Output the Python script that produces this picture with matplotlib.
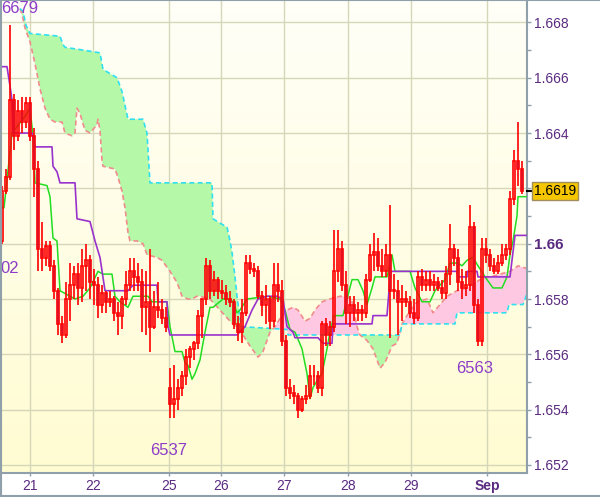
import numpy as np
import matplotlib
matplotlib.use("Agg")
from matplotlib import pyplot as plt
from matplotlib.colors import LinearSegmentedColormap
from matplotlib.lines import Line2D
from matplotlib.ticker import MultipleLocator

plt.rcParams['font.family'] = ['Liberation Sans', 'DejaVu Sans']

# hourly candles
opens = [
    1.6601, 1.6619, 1.6624, 1.6652, 1.6639, 1.6648, 1.6644, 1.6651, 1.6639, 1.6627,
    1.6598, 1.6595, 1.6599, 1.6592, 1.6583, 1.6571, 1.6567, 1.6580, 1.6585, 1.6589,
    1.6584, 1.6592, 1.6594, 1.6586, 1.6585, 1.6578, 1.6582, 1.6579, 1.6580, 1.6575,
    1.6574, 1.6580, 1.6585, 1.6590, 1.6588, 1.6586, 1.6577, 1.6579, 1.6570, 1.6577,
    1.6576, 1.6573, 1.6548, 1.6542, 1.6544, 1.6548, 1.6552, 1.6559, 1.6562, 1.6564,
    1.6574, 1.6580, 1.6592, 1.6583, 1.6587, 1.6583, 1.6582, 1.6580, 1.6579, 1.6571,
    1.6568, 1.6575, 1.6593, 1.6591, 1.6590, 1.6581, 1.6578, 1.6580, 1.6572, 1.6585,
    1.6583, 1.6565, 1.6548, 1.6546, 1.6545, 1.6540, 1.6544, 1.6545, 1.6552, 1.6552,
    1.6548, 1.6571, 1.6567, 1.6570, 1.6590, 1.6598, 1.6585, 1.6575, 1.6578, 1.6575,
    1.6576, 1.6575, 1.6587, 1.6596, 1.6597, 1.6592, 1.6590, 1.6596, 1.6583, 1.6583,
    1.6579, 1.6580, 1.6579, 1.6575, 1.6573, 1.6588, 1.6585, 1.6587, 1.6585, 1.6586,
    1.6584, 1.6582, 1.6589, 1.6598, 1.6595, 1.6586, 1.6584, 1.6585, 1.6606, 1.6578,
    1.6565, 1.6598, 1.6596, 1.6592, 1.6590, 1.6593, 1.6596, 1.6598, 1.6616, 1.6630, 1.6627,
]
highs = [
    1.6621, 1.6627, 1.6679, 1.6654, 1.6652, 1.6653, 1.6653, 1.6653, 1.6642, 1.6630,
    1.6608, 1.6601, 1.6601, 1.6594, 1.6584, 1.6574, 1.6586, 1.6593, 1.6592, 1.6593,
    1.6598, 1.6600, 1.6596, 1.6591, 1.6588, 1.6585, 1.6583, 1.6583, 1.6581, 1.6579,
    1.6581, 1.6590, 1.6595, 1.6595, 1.6593, 1.6591, 1.6590, 1.6598, 1.6583, 1.6586,
    1.6580, 1.6577, 1.6555, 1.6556, 1.6551, 1.6554, 1.6562, 1.6563, 1.6565, 1.6576,
    1.6580, 1.6595, 1.6594, 1.6590, 1.6588, 1.6587, 1.6585, 1.6583, 1.6580, 1.6574,
    1.6580, 1.6596, 1.6596, 1.6593, 1.6592, 1.6583, 1.6585, 1.6581, 1.6593, 1.6593,
    1.6587, 1.6567, 1.6551, 1.6549, 1.6546, 1.6545, 1.6549, 1.6556, 1.6556, 1.6554,
    1.6572, 1.6573, 1.6572, 1.6605, 1.6605, 1.6601, 1.6590, 1.6581, 1.6581, 1.6579,
    1.6578, 1.6589, 1.6600, 1.6604, 1.6602, 1.6598, 1.6600, 1.6614, 1.6589, 1.6587,
    1.6585, 1.6583, 1.6581, 1.6580, 1.6590, 1.6591, 1.6590, 1.6590, 1.6589, 1.6588,
    1.6587, 1.6592, 1.6607, 1.6600, 1.6598, 1.6591, 1.6590, 1.6614, 1.6608, 1.6580,
    1.6602, 1.6602, 1.6598, 1.6595, 1.6596, 1.6600, 1.6600, 1.6619, 1.6634, 1.6644, 1.6630,
]
lows = [
    1.6600, 1.6618, 1.6623, 1.6634, 1.6637, 1.6640, 1.6642, 1.6637, 1.6617, 1.6590,
    1.6590, 1.6592, 1.6590, 1.6580, 1.6567, 1.6564, 1.6566, 1.6572, 1.6580, 1.6578,
    1.6579, 1.6583, 1.6580, 1.6578, 1.6573, 1.6575, 1.6575, 1.6577, 1.6572, 1.6567,
    1.6569, 1.6578, 1.6583, 1.6583, 1.6583, 1.6568, 1.6567, 1.6561, 1.6569, 1.6573,
    1.6571, 1.6568, 1.6537, 1.6537, 1.6540, 1.6545, 1.6549, 1.6555, 1.6558, 1.6562,
    1.6566, 1.6578, 1.6580, 1.6581, 1.6580, 1.6580, 1.6578, 1.6577, 1.6569, 1.6565,
    1.6564, 1.6574, 1.6589, 1.6588, 1.6580, 1.6574, 1.6571, 1.6569, 1.6570, 1.6579,
    1.6563, 1.6545, 1.6544, 1.6542, 1.6537, 1.6539, 1.6542, 1.6544, 1.6549, 1.6546,
    1.6545, 1.6563, 1.6563, 1.6568, 1.6586, 1.6583, 1.6571, 1.6570, 1.6572, 1.6572,
    1.6572, 1.6573, 1.6586, 1.6590, 1.6590, 1.6588, 1.6588, 1.6566, 1.6580, 1.6567,
    1.6572, 1.6577, 1.6573, 1.6571, 1.6572, 1.6583, 1.6583, 1.6583, 1.6583, 1.6583,
    1.6580, 1.6580, 1.6585, 1.6592, 1.6583, 1.6580, 1.6581, 1.6583, 1.6575, 1.6563,
    1.6563, 1.6593, 1.6590, 1.6589, 1.6589, 1.6592, 1.6594, 1.6596, 1.6614, 1.6621, 1.6618,
]
closes = [
    1.6619, 1.6624, 1.6652, 1.6639, 1.6648, 1.6644, 1.6651, 1.6639, 1.6627, 1.6598,
    1.6595, 1.6599, 1.6592, 1.6583, 1.6571, 1.6567, 1.6580, 1.6585, 1.6589, 1.6584,
    1.6592, 1.6594, 1.6586, 1.6585, 1.6578, 1.6582, 1.6579, 1.6580, 1.6575, 1.6574,
    1.6580, 1.6585, 1.6590, 1.6588, 1.6586, 1.6577, 1.6579, 1.6570, 1.6577, 1.6576,
    1.6573, 1.6570, 1.6542, 1.6544, 1.6548, 1.6552, 1.6559, 1.6562, 1.6564, 1.6574,
    1.6580, 1.6592, 1.6583, 1.6587, 1.6583, 1.6582, 1.6580, 1.6579, 1.6571, 1.6568,
    1.6575, 1.6593, 1.6591, 1.6590, 1.6581, 1.6578, 1.6580, 1.6572, 1.6585, 1.6583,
    1.6565, 1.6548, 1.6546, 1.6545, 1.6540, 1.6544, 1.6545, 1.6552, 1.6552, 1.6548,
    1.6571, 1.6567, 1.6570, 1.6590, 1.6598, 1.6585, 1.6575, 1.6578, 1.6575, 1.6576,
    1.6575, 1.6587, 1.6596, 1.6597, 1.6592, 1.6590, 1.6596, 1.6583, 1.6583, 1.6579,
    1.6580, 1.6579, 1.6575, 1.6573, 1.6588, 1.6585, 1.6587, 1.6585, 1.6586, 1.6584,
    1.6582, 1.6589, 1.6598, 1.6595, 1.6586, 1.6584, 1.6585, 1.6606, 1.6578, 1.6565,
    1.6598, 1.6596, 1.6592, 1.6590, 1.6593, 1.6596, 1.6598, 1.6616, 1.6630, 1.6627, 1.6619,
]

# day separators (bar positions) and their labels
day_pos = [7, 22.75, 41.75, 54.75, 70.5, 86.5, 102.25, 121.25]
day_labels = ['21', '22', '25', '26', '27', '28', '29', 'Sep']

price_ticks = [1.652, 1.654, 1.656, 1.658, 1.660, 1.662, 1.664, 1.666, 1.668]
price_labels = ['1.652', '1.654', '1.656', '1.658', '1.66', '', '1.664', '1.666', '1.668']

# ichimoku lines as (bar, price) breakpoints
tenkan = [
    (-0.5, 1.6613), (0.5, 1.6613), (1.25, 1.6623), (2.5, 1.6640), (5.75, 1.6646), (7, 1.6649),
    (7.75, 1.6639), (8.25, 1.6622), (11.25, 1.6621), (12, 1.6617), (12.75, 1.6602), (13.75, 1.6601),
    (14.5, 1.6583), (15.75, 1.6582), (18.25, 1.6580), (20.25, 1.6581), (22, 1.6584), (24, 1.6590),
    (25.25, 1.6589), (27.5, 1.6589), (28.25, 1.6581), (29.5, 1.6579), (31.5, 1.6577), (32.75, 1.6581),
    (36.5, 1.6581), (37.5, 1.6579), (41.25, 1.6579), (42, 1.6570), (43.25, 1.6561), (45, 1.6561),
    (45.75, 1.6557), (46.5, 1.6556), (47.5, 1.6551), (48.25, 1.6553), (49.5, 1.6558), (50.75, 1.6568),
    (52, 1.6577), (52.75, 1.6577), (55.25, 1.6580), (57, 1.6580), (57.75, 1.6579), (58.75, 1.6575),
    (59.5, 1.6576), (61.25, 1.6580), (66.5, 1.6581), (69.5, 1.6580), (70.75, 1.6576), (72, 1.6569),
    (73.25, 1.6568), (75, 1.6562), (76.25, 1.6553), (77, 1.6544), (77.75, 1.6548), (79, 1.6551),
    (80, 1.6553), (81.25, 1.6562), (82, 1.6568), (83, 1.6574), (85.25, 1.6574), (86.25, 1.6580),
    (87.5, 1.6587), (89, 1.6587), (90.25, 1.6583), (91.25, 1.6578), (92.5, 1.6584), (93.25, 1.6588),
    (96.25, 1.6588), (97.5, 1.6596), (98.25, 1.6590), (102, 1.6590), (103.25, 1.6584), (105, 1.6579),
    (107, 1.6579), (108.25, 1.6583), (109.5, 1.6585), (110.75, 1.6587), (112, 1.6593), (114, 1.6593),
    (115, 1.6592), (116.25, 1.6594), (117.75, 1.6595), (119, 1.6592), (121.25, 1.6587), (122.75, 1.6584),
    (125, 1.6584), (126.25, 1.6588), (127, 1.6596), (127.75, 1.6601), (128.75, 1.6610), (129, 1.6617),
    (131, 1.6617),
]
kijun = [
    (-0.5, 1.6664), (1.25, 1.6664), (2, 1.6657), (2.5, 1.6652), (2.75, 1.6640), (7.5, 1.6640),
    (8.25, 1.6635), (12.5, 1.6635), (12.75, 1.6628), (13.75, 1.6626), (14.5, 1.6622), (18.25, 1.6622),
    (18.75, 1.6609), (22, 1.6608), (23.25, 1.6601), (24.5, 1.6595), (25.75, 1.6583), (31.5, 1.6583),
    (32.75, 1.6585), (38.75, 1.6585), (39, 1.6579), (41.25, 1.6579), (41.5, 1.6570), (42, 1.6567),
    (58.75, 1.6567), (60.75, 1.6570), (62.5, 1.6576), (64, 1.6580), (66.25, 1.6581), (68.75, 1.6581),
    (70.25, 1.6580), (71.25, 1.6570), (72.75, 1.6568), (73.25, 1.6566), (79, 1.6566), (80.25, 1.6564),
    (82.5, 1.6564), (82.75, 1.6571), (92.5, 1.6571), (92.75, 1.6574), (96.25, 1.6574), (96.75, 1.6583),
    (97.25, 1.6590), (113.75, 1.6590), (114, 1.6588), (116.25, 1.6588), (116.3, 1.6590), (118.75, 1.6590),
    (119, 1.6588), (127, 1.6588), (127.75, 1.6597), (128.25, 1.6603), (131, 1.6603),
]
span_a = [
    (4.5, 1.6685), (5, 1.6683), (5.75, 1.6678), (7, 1.6673), (8.25, 1.6665), (9.5, 1.6656),
    (10.75, 1.6649), (12, 1.6645), (13.25, 1.6644), (15, 1.6644), (15.75, 1.6640), (17.5, 1.6639),
    (18.25, 1.6640), (18.75, 1.6649), (19.5, 1.6647), (20.75, 1.6641), (22, 1.6640), (23.75, 1.6643),
    (24, 1.6645), (24.5, 1.6641), (25, 1.6630), (25.25, 1.6628), (28.25, 1.6627), (29, 1.6624),
    (30, 1.6619), (30.75, 1.6613), (31.5, 1.6604), (32, 1.6601), (33.75, 1.6601), (35.25, 1.6600),
    (36.25, 1.6596), (38.75, 1.6595), (40, 1.6594), (42, 1.6590), (43.75, 1.6586), (45, 1.6581),
    (46.5, 1.6580), (47.5, 1.6580), (48.75, 1.6581), (49.5, 1.6581), (52, 1.6580), (54.5, 1.6576),
    (57, 1.6572), (59, 1.6569), (60.25, 1.6567), (62, 1.6563), (64, 1.6559), (65.25, 1.6561),
    (66.25, 1.6565), (67, 1.6568), (68.25, 1.6570), (69.5, 1.6573), (71.25, 1.6576), (72.75, 1.6577),
    (74, 1.6576), (75.75, 1.6572), (77, 1.6573), (78.25, 1.6576), (80, 1.6579), (82, 1.6580),
    (84.5, 1.6581), (86.25, 1.6581), (87.5, 1.6579), (88.75, 1.6570), (89.5, 1.6567), (91.25, 1.6565),
    (92.75, 1.6562), (94.5, 1.6555), (95.75, 1.6557), (97.5, 1.6563), (98.75, 1.6564), (100, 1.6571),
    (101.25, 1.6574), (103.75, 1.6579), (106.25, 1.6580), (107.75, 1.6575), (109.5, 1.6578),
    (111.25, 1.6581), (113.75, 1.6583), (116.25, 1.6584), (119.5, 1.6587), (122, 1.6588),
    (124.5, 1.6589), (127, 1.6590), (129, 1.6592), (131.25, 1.6591),
]
span_b = [
    (4.5, 1.6685), (5.25, 1.6684), (6, 1.6679), (7, 1.6676), (14.5, 1.6675), (15.25, 1.6672),
    (15.75, 1.6671), (20.25, 1.6670), (24.5, 1.6669), (25.25, 1.6663), (28.75, 1.6660), (30, 1.6655),
    (31.5, 1.6645), (35.25, 1.6645), (36.25, 1.6640), (37, 1.6622), (52.5, 1.6622), (52.75, 1.6609),
    (55, 1.6607), (56.25, 1.6606), (57, 1.6601), (57.5, 1.6597), (58.25, 1.6588), (58.75, 1.6581),
    (59.5, 1.6573), (60, 1.6570), (71.25, 1.6569), (71.5, 1.6567), (99.5, 1.6567), (100, 1.6571),
    (113.25, 1.6571), (113.75, 1.6575), (126.25, 1.6575), (126.75, 1.6578), (130.25, 1.6578),
    (131.25, 1.6582),
]

frame_col = '#8fa0aa'
label_col = '#5a2a80'
note_col = '#8c3cc8'

fig = plt.figure(figsize=(6, 4.97), dpi=100)
fig.patch.set_facecolor('white')
ax = fig.add_axes([0, 24 / 497, 527 / 600, 473 / 497])

# yellowish vertical gradient background
bg = LinearSegmentedColormap.from_list('bg', ['#fffcd2', '#fffff8'])
ax.imshow(np.linspace(0, 1, 256).reshape(-1, 1), cmap=bg, aspect='auto',
          extent=[0, 1, 0, 1], transform=ax.transAxes, origin='lower', zorder=0)

# cloud
ax_x, ax_y = zip(*span_a)
bx_x, bx_y = zip(*span_b)
xs = np.linspace(4.5, 131.25, 3000)
ya = np.interp(xs, ax_x, ax_y)
yb = np.interp(xs, bx_x, bx_y)
ax.fill_between(xs, ya, yb, where=yb >= ya, interpolate=True, color='#b4f8a8', lw=0, zorder=1)
ax.fill_between(xs, ya, yb, where=ya > yb, interpolate=True, color='#ffc8e2', lw=0, zorder=1)
ax.plot(ax_x, ax_y, color='#f08c8c', lw=1.2, ls=(0, (3, 2)), zorder=2)
ax.plot(bx_x, bx_y, color='#30e0f0', lw=1.2, ls=(0, (3, 2)), zorder=2)

# tenkan / kijun
tx, ty = zip(*tenkan)
kx, ky = zip(*kijun)
ax.plot(tx, ty, color='#22dd22', lw=1.1, zorder=3)
ax.plot(kx, ky, color='#9932cc', lw=1.2, zorder=3)

# candles
idx = np.arange(len(closes))
o, h, l, c = map(np.array, (opens, highs, lows, closes))
up = c >= o
top = np.maximum(o, c)
bot = np.minimum(o, c)
ax.vlines(idx, top, h, color='red', lw=1.2, zorder=4)
ax.vlines(idx, l, bot, color='red', lw=1.2, zorder=4)
body = np.where(top - bot < 0.00003, 0.00003, top - bot)
face = ['none' if u else '#6f5fc8' for u in up]
ax.bar(idx, body, bottom=bot, width=0.72, color=face, edgecolor='red', lw=1.2, zorder=5)

# high / low notes
ax.text(-0.2, 1.66835, '6679', color=note_col, fontsize=12, ha='left', va='baseline', zorder=6)
ax.text(-0.3, 1.65894, '02', color=note_col, fontsize=12, ha='left', va='baseline', zorder=6)
ax.text(41.75, 1.65236, '6537', color=note_col, fontsize=12, ha='center', va='baseline', zorder=6)
ax.text(118.25, 1.65533, '6563', color=note_col, fontsize=12, ha='center', va='baseline', zorder=6)

ax.set_xlim(-0.5, 131.25)
ax.set_ylim(1.65171, 1.66881)

# axes styling
ax.grid(True, which='major', color='#d6d6b8', lw=1)
ax.set_axisbelow(True)
for s in ['top', 'left']:
    ax.spines[s].set_visible(False)
for s in ['right', 'bottom']:
    ax.spines[s].set_color(frame_col)
    ax.spines[s].set_linewidth(1.5)

ax.yaxis.tick_right()
ax.set_yticks(price_ticks)
ax.set_yticklabels(price_labels)
ax.yaxis.set_minor_locator(MultipleLocator(0.001))
ax.tick_params(axis='y', which='both', direction='out', length=3, width=1,
               color=frame_col, labelcolor=label_col, labelsize=10, pad=2)
for t in ax.get_yticklabels():
    if t.get_text() == '1.66':
        t.set_fontweight('bold')
        t.set_fontsize(11)

ax.set_xticks(day_pos)
ax.set_xticklabels(day_labels)
ax.tick_params(axis='x', direction='out', length=2.5, width=1, color=frame_col,
               labelcolor=label_col, labelsize=10, pad=2)
for t in ax.get_xticklabels():
    if t.get_text() == 'Sep':
        t.set_fontweight('bold')

# last price marker
last = closes[-1]
ax.plot([1, 1.01], [last, last], transform=ax.get_yaxis_transform(), color='black',
        lw=1.5, clip_on=False, zorder=7)
ax.text(1.0135, last, f'{last:.4f}', transform=ax.get_yaxis_transform(), ha='left',
        va='center', fontsize=10, color='black', clip_on=False, zorder=8,
        bbox=dict(boxstyle='square,pad=0.15', fc='#f6c700', ec='#a08c5c', lw=1))

# outer frame
for xy in ([(0.001, 0.001), (0, 1)], [(0, 1), (0.999, 0.999)], [(0, 1), (0.002, 0.002)]):
    fig.add_artist(Line2D(xy[0], xy[1], transform=fig.transFigure, color=frame_col, lw=1.5))

fig.savefig('out.png', dpi=100)
